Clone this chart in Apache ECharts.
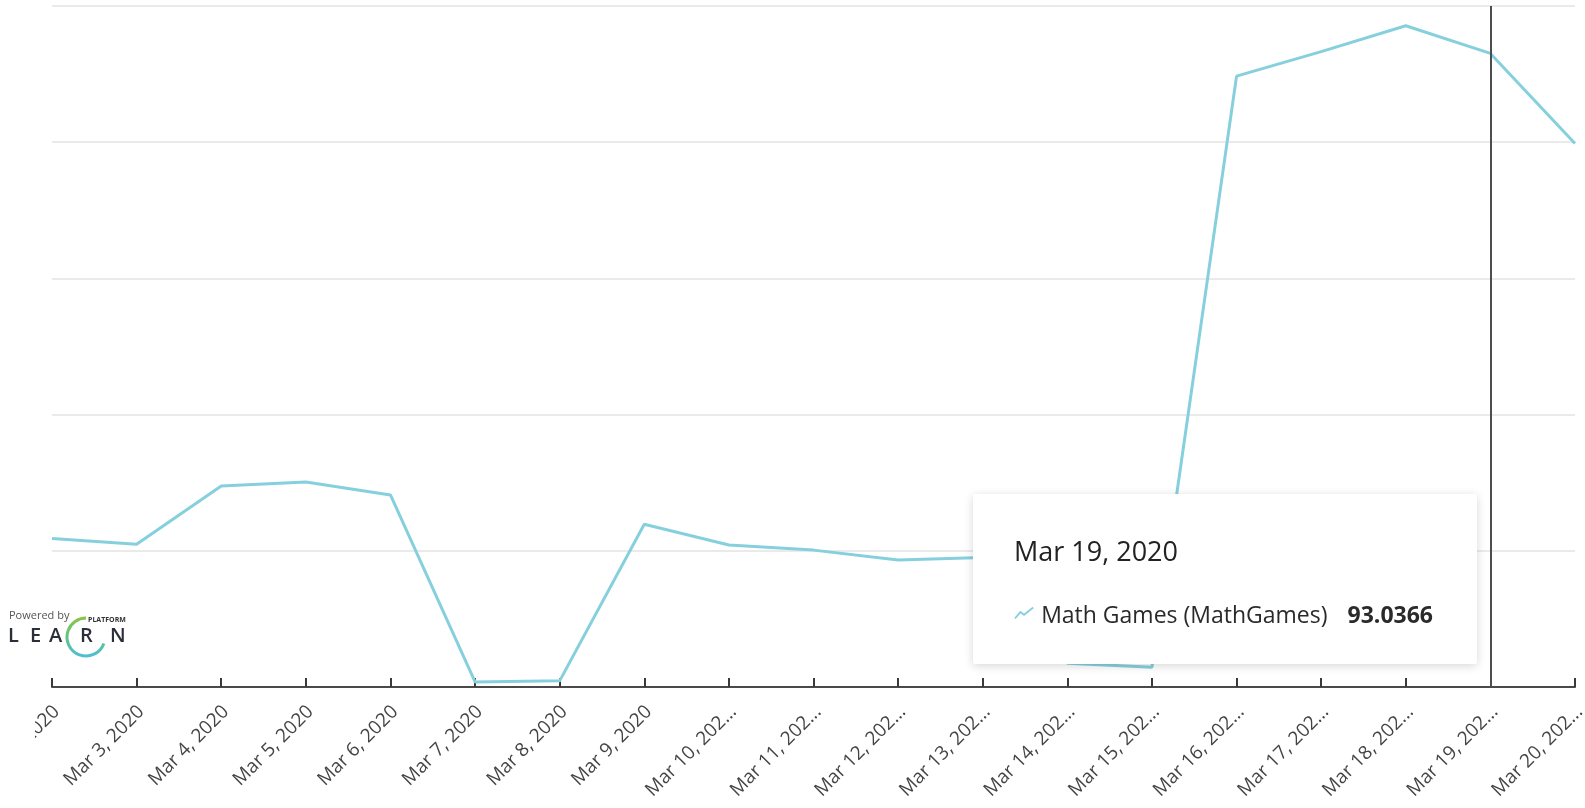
<!DOCTYPE html>
<html>
<head>
<meta charset="utf-8">
<script src="https://cdn.jsdelivr.net/npm/echarts@6/dist/echarts.min.js"></script>
<style>
html,body{margin:0;padding:0;background:#fff;}
#chart{width:1585px;height:808px;}
</style>
</head>
<body>
<div id="chart"></div>
<script>
// ---- data ----
const categories = ['Mar 2, 2020','Mar 3, 2020','Mar 4, 2020','Mar 5, 2020','Mar 6, 2020','Mar 7, 2020','Mar 8, 2020','Mar 9, 2020','Mar 10, 2020','Mar 11, 2020','Mar 12, 2020','Mar 13, 2020','Mar 14, 2020','Mar 15, 2020','Mar 16, 2020','Mar 17, 2020','Mar 18, 2020','Mar 19, 2020','Mar 20, 2020'];
const mathGames = [21.8, 20.95, 29.5, 30.1, 28.2, 0.75, 0.9, 23.9, 20.85, 20.1, 18.65, 19.0, 3.5, 2.9, 89.7, 93.3, 97.1, 93.0366, 79.8];
const seriesName = 'Math Games (MathGames)';
const yMin = 0, yMax = 100, yStep = 20;
const highlightIndex = 17;

const FONT = '"Open Sans", "Noto Sans", sans-serif';
const LINE = '#86d0de';

const chart = echarts.init(document.getElementById('chart'), null, {renderer: 'canvas'});

function truncLabel(s) {
  return s.length > 11 ? s.slice(0, 11) + '...' : s;
}

const option = {
  animation: false,
  grid: {left: 52, right: 10, top: 6, bottom: 121, containLabel: false, outerBoundsMode: 'none'},
  xAxis: {
    type: 'category',
    data: categories,
    boundaryGap: false,
    axisLine: {show: true, lineStyle: {color: '#4a4a4a', width: 2}},
    axisTick: {show: true, inside: true, length: 9, interval: 0, lineStyle: {color: '#3a3a3a', width: 2}},
    axisLabel: {
      interval: 0, rotate: 45, margin: 13,
      verticalAlign: 'top', padding: [0, 3, 0, 0],
      fontFamily: FONT, fontSize: 19, color: '#444',
      formatter: truncLabel, hideOverlap: false
    },
    splitLine: {show: false},
    axisPointer: {
      show: true, type: 'line', label: {show: false},
      lineStyle: {color: '#4d4d4d', width: 2, type: 'solid'}
    }
  },
  yAxis: {
    type: 'value',
    min: yMin, max: yMax, interval: yStep,
    axisLabel: {show: false},
    axisLine: {show: false},
    axisTick: {show: false},
    splitLine: {show: true, lineStyle: {color: '#e3e3e3', width: 1.5}}
  },
  tooltip: {
    trigger: 'axis',
    alwaysShowContent: true,
    transitionDuration: 0,
    backgroundColor: '#ffffff',
    borderWidth: 0,
    padding: 0,
    extraCssText: 'box-shadow:0 2px 10px rgba(0,0,0,0.16);border-radius:2px;width:504px;height:170px;box-sizing:border-box;padding:43px 44px 0 41px;',
    position: function () { return [973, 494]; },
    formatter: function (params) {
      const p = params[0];
      const v = mathGames[p.dataIndex];
      return '<div style="font-family:' + FONT.replace(/"/g, "'") + ';color:#222;">' +
        '<div style="font-size:27px;line-height:27px;">' + categories[p.dataIndex] + '</div>' +
        '<div style="margin-top:39px;display:flex;align-items:center;font-size:23px;line-height:23px;color:#2a2a2a;">' +
          '<svg width="22" height="14" style="margin-right:7px;margin-top:-4px" viewBox="0 0 22 14"><polyline points="1,13 7,6 11,9 21,1" fill="none" stroke="' + LINE + '" stroke-width="2"/></svg>' +
          '<span>' + p.seriesName + '</span>' +
          '<span style="margin-left:20px;font-weight:bold;">' + v + '</span>' +
        '</div></div>';
    }
  },
  series: [{
    name: seriesName,
    type: 'line',
    data: mathGames,
    symbol: 'none',
    lineStyle: {color: LINE, width: 3},
    itemStyle: {color: LINE},
    emphasis: {disabled: true}
  }],
  graphic: [
    // the reference view is cropped on its left edge below the axis
    {type: 'rect', z: 100, silent: true, shape: {x: 0, y: 690, width: 35, height: 118}, style: {fill: '#ffffff'}},
    {type: 'text', left: 9, top: 610, style: {text: 'Powered by', font: '11px ' + FONT, fill: '#555'}},
    {type: 'text', left: 88, top: 616, style: {text: 'PLATFORM', font: 'bold 7px ' + FONT, fill: '#333', letterSpacing: 1}},
    {type: 'arc', shape: {cx: 86, cy: 637, r: 19, startAngle: Math.PI / 9, endAngle: Math.PI * 1.5, clockwise: true},
      style: {fill: 'none', lineWidth: 3,
        stroke: new echarts.graphic.LinearGradient(0, 0, 0, 1, [{offset: 0, color: '#8cc63f'}, {offset: 0.55, color: '#5cc38a'}, {offset: 1, color: '#4bbfdc'}])}},
    {type: 'text', left: 8, top: 626, style: {text: 'L', font: '600 20px ' + FONT, fill: '#2b2f3a'}},
    {type: 'text', left: 30, top: 626, style: {text: 'E', font: '600 20px ' + FONT, fill: '#2b2f3a'}},
    {type: 'text', left: 49, top: 626, style: {text: 'A', font: '600 20px ' + FONT, fill: '#2b2f3a'}},
    {type: 'text', left: 80, top: 626, style: {text: 'R', font: '600 20px ' + FONT, fill: '#2b2f3a'}},
    {type: 'text', left: 110, top: 626, style: {text: 'N', font: '600 20px ' + FONT, fill: '#2b2f3a'}}
  ]
};

chart.setOption(option);
chart.dispatchAction({type: 'showTip', seriesIndex: 0, dataIndex: highlightIndex});
</script>
</body>
</html>
